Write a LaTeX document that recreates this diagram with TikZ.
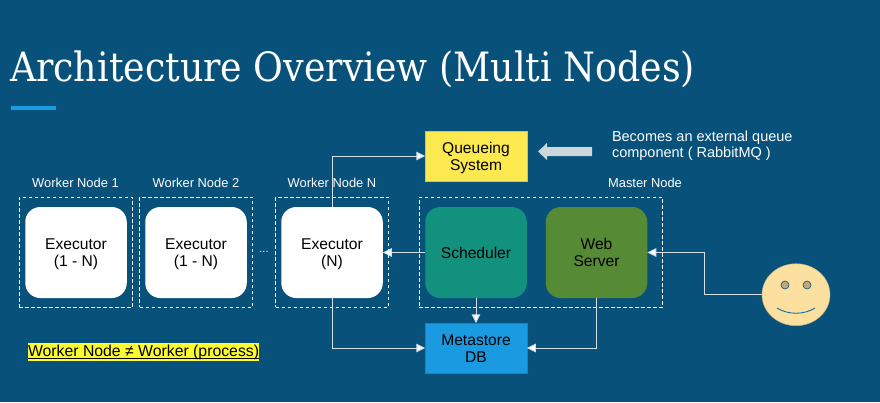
\documentclass[tikz,border=0pt]{standalone}
\usepackage{fontspec}
\setmainfont{Liberation Sans}
\newfontfamily\titlefont{DejaVu Serif Condensed}
\usetikzlibrary{arrows.meta,calc,shapes.geometric}
\definecolor{bg}{HTML}{07517A}
\definecolor{linec}{HTML}{D5E0E6}
\definecolor{qy}{HTML}{FCE94F}
\definecolor{sched}{HTML}{12917F}
\definecolor{webg}{HTML}{578A35}
\definecolor{meta}{HTML}{1A9AE0}
\definecolor{facec}{HTML}{FBE0A0}
\definecolor{arrowg}{HTML}{CDD6DB}
\definecolor{hilite}{HTML}{FBFB30}
\newcommand{\toppad}{\rule{0pt}{15pt}}
\newcommand{\botpad}{\rule[-3.3pt]{0pt}{3.3pt}}
\tikzset{
  x=1pt,y=-1pt,
  every node/.style={inner sep=0pt,outer sep=0pt,align=center},
  roundbox/.style={minimum width=101.5pt,minimum height=91pt,rounded corners=15pt,font=\fontsize{15.6}{17}\selectfont,text=black},
  sqbox/.style={minimum width=101.5pt,minimum height=49.5pt,font=\fontsize{15.6}{17}\selectfont,text=black},
  dashbox/.style={draw=white,dashed,line width=0.8pt,dash pattern=on 3.5pt off 2.5pt,minimum height=110pt},
  grouplabel/.style={text=white,font=\fontsize{12.9}{15}\selectfont},
  conn/.style={draw=linec,line width=1pt,-{Triangle[length=9pt,width=8.5pt,fill=white]}},
}
\begin{document}
\begin{tikzpicture}
\useasboundingbox (0,0) rectangle (880,402);
\fill[bg] (0,0) rectangle (880,402);
% title
\node[anchor=base west,text=white,font=\titlefont\fontsize{40.4}{44}\selectfont] (title) at (10,81) {Architecture Overview (Multi Nodes)};
\fill[meta] (11,106) rectangle (56,109.5);
% dashed groups
\node[dashbox,minimum width=113.5pt] (g1) at (75.75,252) {};
\node[dashbox,minimum width=113pt] (g2) at (196,252) {};
\node[dashbox,minimum width=113pt] (gn) at (332,252) {};
\node[dashbox,minimum width=243.5pt] (gm) at (541,252) {};
% group labels
\node[grouplabel] (l1) at (75.5,183) {Worker Node 1};
\node[grouplabel] (l2) at (196,183) {Worker Node 2};
\node[grouplabel] (ln) at (332,183) {Worker Node N};
\node[grouplabel] (lm) at (645,183) {Master Node};
% boxes
\node[roundbox,fill=white] (e1) at (76,252.5) {\toppad Executor\\(1 - N)};
\node[roundbox,fill=white] (e2) at (196,252.5) {\toppad Executor\\(1 - N)};
\node[roundbox,fill=white] (en) at (332,252.5) {\toppad Executor\\(N)};
\node[roundbox,fill=sched] (sc) at (476,252.5) {Scheduler};
\node[roundbox,fill=webg] (ws) at (596.5,252.5) {\toppad Web\\Server\botpad};
\node[sqbox,fill=qy,draw=qy!85!black,line width=0.5pt] (qs) at (476,156) {\toppad Queueing\\System};
\node[sqbox,fill=meta,draw=meta!85!black,line width=0.5pt] (db) at (476,348) {\toppad Metastore\\DB\botpad};
\node[text=white,font=\fontsize{11}{12}\selectfont] (dots) at (264,252) {...};
% face
\node[draw=facec!80!black,line width=0.4pt,fill=facec,ellipse,minimum width=68pt,minimum height=62pt] (face) at (796,294.7) {};
\node[circle,fill=facec!75!black,draw=bg,line width=0.6pt,minimum size=8pt] (eye1) at (785,285) {};
\node[circle,fill=facec!75!black,draw=bg,line width=0.6pt,minimum size=8pt] (eye2) at (807,285) {};
\coordinate (sl) at (777,308);
\coordinate (sr) at (815,308);
\draw[draw=meta!70!black,line width=0.9pt] (sl) .. controls (788,315) and (804,315) .. (sr);
% connectors
\draw[conn] (en.north) |- (qs.west);
\draw[conn] (en.south) |- (db.west);
\draw[conn] (sc.west) -- (en.east);
\draw[conn] (sc.south) -- (db.north);
\draw[conn] (ws.south) |- (db.east);
\coordinate (bend) at (704,252.5);
\draw[conn] (face.west) -| (bend) -- (ws.east);
% big arrow
\coordinate (tip) at (538,151.5);
\fill[arrowg] (tip) -- (547,143) -- (547,147) -- (592,147) -- (592,156) -- (547,156) -- (547,160) -- cycle;
% notes
\node[anchor=west,text=white,align=left,font=\fontsize{14.5}{16}\selectfont] (note) at (612,145.5) {Becomes an external queue\\component ( RabbitMQ )};
\node[anchor=north west,fill=hilite,text=black,font=\fontsize{15.8}{17}\selectfont,text height=13.8pt,text depth=3.7pt] (wn) at (28,343) {\underline{\smash{Worker Node ≠ Worker (process)}}};
\end{tikzpicture}
\end{document}
